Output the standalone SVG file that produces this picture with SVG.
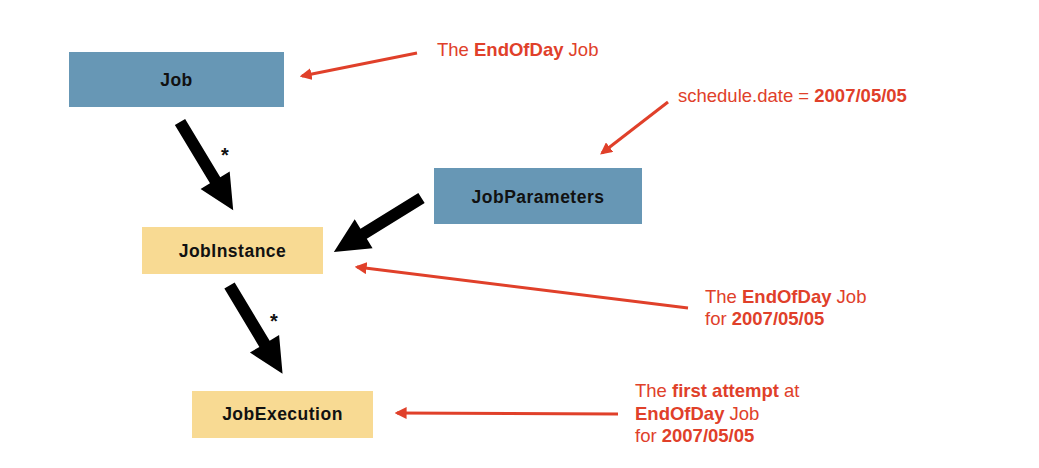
<svg xmlns="http://www.w3.org/2000/svg" width="1039" height="468" viewBox="0 0 1039 468">
<style>
.blue{fill:#6797b5;}
.yellow{fill:#f8da93;}
.lbl{font-family:"Liberation Sans",Arial,sans-serif;font-weight:bold;font-size:17.5px;letter-spacing:0.5px;fill:#111;text-anchor:middle;}
.note{font-family:"Liberation Sans",Arial,sans-serif;font-size:18.5px;fill:#e0402a;}
.b{font-weight:bold;}
.star{font-family:"Liberation Sans",Arial,sans-serif;font-weight:bold;font-size:20px;fill:#111;}
.red{stroke:#e0402a;stroke-width:3;fill:none;marker-end:url(#rh);}
</style>
<defs>
<marker id="rh" viewBox="0 0 10 10" refX="8" refY="5" markerWidth="4" markerHeight="4" orient="auto" markerUnits="strokeWidth">
<path d="M0,0 L10,5 L0,10 Z" fill="#e0402a"/>
</marker>
<path id="big" d="M0,-6 L68,-6 L68,-17 L103,0 L68,17 L68,6 L0,6 Z" fill="#000"/>
</defs>
<rect width="1039" height="468" fill="#fff"/>
<g id="job"><rect class="blue" x="69" y="52" width="215" height="55"/><text class="lbl" x="176.5" y="86">Job</text></g>
<g id="jobparameters"><rect class="blue" x="434" y="168" width="208" height="56"/><text class="lbl" x="538" y="203">JobParameters</text></g>
<g id="jobinstance"><rect class="yellow" x="142" y="227" width="181" height="47"/><text class="lbl" x="232.5" y="257">JobInstance</text></g>
<g id="jobexecution"><rect class="yellow" x="192" y="391" width="181" height="47"/><text class="lbl" x="282.5" y="420">JobExecution</text></g>
<g id="connectors">
<use href="#big" transform="translate(180,122) rotate(58.9)"/>
<use href="#big" transform="translate(421.5,198) rotate(148.3)"/>
<use href="#big" transform="translate(229.5,285.5) rotate(59)"/>
<text class="star" x="221" y="162">*</text>
<text class="star" x="270" y="328">*</text>
<line class="red" x1="417" y1="53" x2="302" y2="76"/>
<line class="red" x1="668" y1="102" x2="602" y2="153"/>
<line class="red" x1="688" y1="308" x2="357" y2="267"/>
<line class="red" x1="618" y1="414" x2="397" y2="413"/>
</g>
<g id="notes">
<text class="note" x="437" y="56">The <tspan class="b">EndOfDay</tspan> Job</text>
<text class="note" x="678" y="102">schedule.date = <tspan class="b">2007/05/05</tspan></text>
<text class="note" x="705" y="303">The <tspan class="b">EndOfDay</tspan> Job</text>
<text class="note" x="705" y="325">for <tspan class="b">2007/05/05</tspan></text>
<text class="note" x="635" y="397">The <tspan class="b">first attempt</tspan> at</text>
<text class="note" x="635" y="420"><tspan class="b">EndOfDay</tspan> Job</text>
<text class="note" x="635" y="442">for <tspan class="b">2007/05/05</tspan></text>
</g>
</svg>
